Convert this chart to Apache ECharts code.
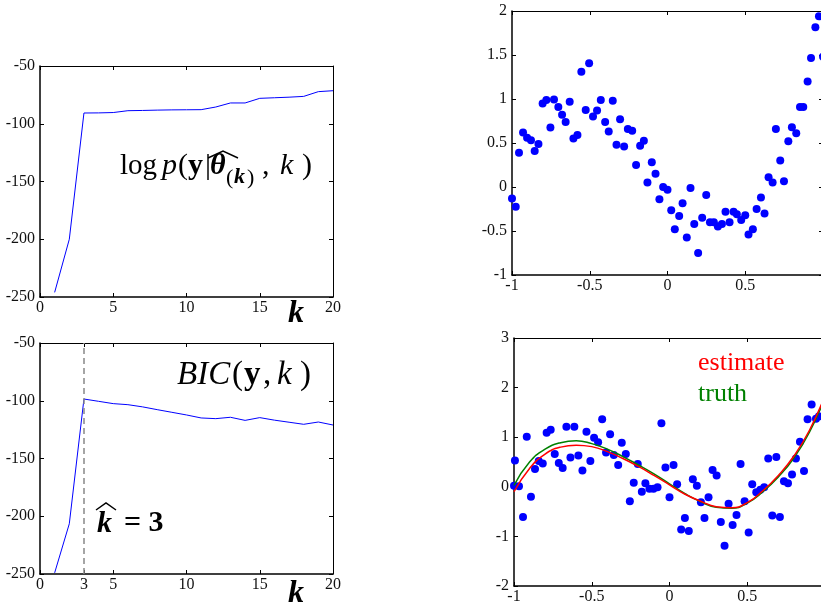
<!DOCTYPE html>
<html>
<head>
<meta charset="utf-8">
<script src="https://cdn.jsdelivr.net/npm/echarts@6/dist/echarts.min.js"></script>
<style>
  html, body { margin: 0; padding: 0; background: #fff; }
  #chart { width: 821px; height: 607px; }
</style>
</head>
<body>
<div id="chart"></div>
<script>
// 左上: log p(y|theta_k, k)，左下: BIC(y, k)
var kValues = [1, 2, 3, 4, 5, 6, 7, 8, 9, 10, 11, 12, 13, 14, 15, 16, 17, 18, 19, 20]
var logLik = [-246, -200, -90.7, -90.6, -90.3, -88.7, -88.5, -88.2, -88, -87.9, -87.8, -85.5, -82, -82, -78, -77.5, -77, -76.3, -72.2, -71.4]
var bicValues = [-249, -206.5, -98.5, -100.5, -102.5, -103.4, -105.3, -107.7, -110, -112.3, -114.9, -115.5, -114.3, -117, -114.6, -116.8, -118.6, -120.4, -118.4, -121]
var bicTicks = [0, 3, 5, 10, 15, 20]

// 右上: 样本点
var topX = [-1, -0.976, -0.955, -0.929, -0.903, -0.878, -0.854, -0.83, -0.803, -0.779, -0.753, -0.73, -0.702, -0.678, -0.655, -0.629, -0.605, -0.579, -0.554, -0.526, -0.504, -0.479, -0.453, -0.429, -0.401, -0.378, -0.352, -0.328, -0.305, -0.279, -0.255, -0.227, -0.202, -0.176, -0.152, -0.129, -0.101, -0.077, -0.052, -0.028, 0, 0.024, 0.047, 0.075, 0.097, 0.124, 0.148, 0.172, 0.197, 0.223, 0.249, 0.273, 0.298, 0.324, 0.35, 0.373, 0.399, 0.425, 0.446, 0.474, 0.5, 0.521, 0.549, 0.573, 0.601, 0.624, 0.65, 0.676, 0.697, 0.725, 0.749, 0.777, 0.8, 0.828, 0.852, 0.873, 0.901, 0.923, 0.951, 0.974, 1]
var topY = [-0.13, -0.225, 0.39, 0.62, 0.56, 0.53, 0.41, 0.49, 0.95, 0.99, 0.675, 0.995, 0.91, 0.82, 0.74, 0.97, 0.55, 0.59, 1.31, 0.875, 1.405, 0.8, 0.87, 0.99, 0.74, 0.63, 0.98, 0.48, 0.77, 0.46, 0.66, 0.64, 0.25, 0.47, 0.525, 0.05, 0.28, 0.15, -0.14, 0, -0.03, -0.265, -0.48, -0.33, -0.185, -0.575, -0.01, -0.42, -0.75, -0.35, -0.09, -0.4, -0.4, -0.45, -0.42, -0.28, -0.4, -0.28, -0.31, -0.375, -0.32, -0.54, -0.48, -0.25, -0.12, -0.3, 0.11, 0.05, 0.66, 0.3, 0.065, 0.52, 0.68, 0.61, 0.91, 0.91, 1.2, 1.465, 1.815, 1.94, 1.48]

// 右下: 样本点 + 曲线
var botX = [-1, -0.994, -0.968, -0.942, -0.918, -0.891, -0.865, -0.841, -0.815, -0.79, -0.764, -0.738, -0.712, -0.687, -0.663, -0.637, -0.612, -0.586, -0.56, -0.534, -0.509, -0.485, -0.459, -0.433, -0.408, -0.382, -0.358, -0.33, -0.307, -0.281, -0.255, -0.23, -0.204, -0.178, -0.155, -0.129, -0.103, -0.077, -0.052, -0.026, 0, 0.026, 0.049, 0.075, 0.099, 0.124, 0.15, 0.176, 0.202, 0.225, 0.251, 0.277, 0.303, 0.33, 0.354, 0.38, 0.406, 0.431, 0.457, 0.483, 0.509, 0.532, 0.558, 0.584, 0.609, 0.635, 0.661, 0.687, 0.71, 0.736, 0.762, 0.788, 0.813, 0.839, 0.865, 0.888, 0.914, 0.942, 0.961]
var botY = [0.02, 0.53, 0.01, -0.61, 1.01, -0.2, 0.36, 0.52, 0.47, 1.09, 1.15, 0.66, 0.48, 0.38, 1.21, 0.59, 1.21, 0.63, 0.33, 1.11, 0.52, 0.99, 0.9, 1.36, 0.69, 1.06, 0.64, 0.44, 0.89, 0.66, -0.29, 0.08, 0.46, -0.1, 0.07, -0.04, -0.04, -0.01, 1.28, 0.39, -0.21, 0.44, 0.05, -0.86, -0.63, -0.89, 0.15, 0.02, -0.31, -0.63, -0.21, 0.34, 0.23, -0.71, -1.19, -0.34, -0.77, -0.57, 0.46, -0.29, -0.92, 0.05, -0.11, -0.06, -0.01, 0.57, -0.58, 0.6, -0.61, 0.11, 0.07, 0.25, 0.57, 0.91, 0.32, 1.36, 1.66, 1.37, 1.42]
var curveX = [-1, -0.9, -0.8, -0.7, -0.6, -0.5, -0.4, -0.3, -0.2, -0.1, 0, 0.1, 0.2, 0.3, 0.4, 0.5, 0.6, 0.7, 0.8, 0.9, 1]
var truthY = [0.03, 0.5, 0.76, 0.89, 0.93, 0.87, 0.76, 0.61, 0.44, 0.26, 0.06, -0.14, -0.3, -0.41, -0.43, -0.33, -0.1, 0.2, 0.58, 1.1, 1.8]
var estimateY = [-0.1, 0.37, 0.66, 0.8, 0.84, 0.81, 0.71, 0.57, 0.41, 0.23, 0.04, -0.15, -0.29, -0.4, -0.42, -0.32, -0.08, 0.23, 0.62, 1.14, 1.84]

function zip(xs, ys) {
  return xs.map(function (x, i) { return [x, ys[i]] })
}

var serif = 'Liberation Serif'
var labelStyle = { color: '#111', fontFamily: serif, fontSize: 16 }

// 底/左 轴: 粗线；顶/右 轴: 细线 + 向内刻度
function mainX(grid, min, max, interval, extra) {
  return Object.assign({
    type: 'value', gridIndex: grid, min: min, max: max, interval: interval,
    axisLine: { onZero: false, lineStyle: { color: '#000', width: 1.5 } },
    axisTick: { inside: true, length: 4, lineStyle: { color: '#000' } },
    axisLabel: Object.assign({ margin: 3 }, labelStyle),
    splitLine: { show: false }
  }, extra || {})
}
function boxX(grid, min, max, interval, extra) {
  return Object.assign({
    type: 'value', gridIndex: grid, min: min, max: max, interval: interval, position: 'top',
    axisLine: { onZero: false, lineStyle: { color: '#000', width: 1 } },
    axisTick: { inside: true, length: 4, lineStyle: { color: '#000' } },
    axisLabel: { show: false },
    splitLine: { show: false }
  }, extra || {})
}
function mainY(grid, min, max, interval) {
  return {
    type: 'value', gridIndex: grid, min: min, max: max, interval: interval,
    axisLine: { show: true, onZero: false, lineStyle: { color: '#000', width: 1.5 } },
    axisTick: { show: true, inside: true, length: 4, lineStyle: { color: '#000' } },
    axisLabel: Object.assign({ margin: 5 }, labelStyle),
    splitLine: { show: false }
  }
}
function boxY(grid, min, max, interval) {
  return {
    type: 'value', gridIndex: grid, min: min, max: max, interval: interval, position: 'right',
    axisLine: { show: true, onZero: false, lineStyle: { color: '#000', width: 1 } },
    axisTick: { show: true, inside: true, length: 4, lineStyle: { color: '#000' } },
    axisLabel: { show: false },
    splitLine: { show: false }
  }
}

var hideOne = { formatter: function (v) { return v === 1 ? '' : String(v) } }
var f30 = '30px ' + serif
var f33 = '33px ' + serif

var chart = echarts.init(document.getElementById('chart'))
var option = {
  animation: false,
  backgroundColor: '#fff',
  grid: [
    { left: 40, top: 66, width: 293, height: 231, outerBoundsMode: 'none' },
    { left: 40, top: 343, width: 293, height: 231, outerBoundsMode: 'none' },
    { left: 512, top: 11, width: 311, height: 264, outerBoundsMode: 'none' },
    { left: 514, top: 338, width: 311, height: 248, outerBoundsMode: 'none' }
  ],
  xAxis: [
    mainX(0, 0, 20, 5),
    mainX(1, 0, 20, 5, {
      axisTick: { inside: true, length: 4, lineStyle: { color: '#000' }, customValues: bicTicks },
      axisLabel: Object.assign({ margin: 3, customValues: bicTicks }, labelStyle)
    }),
    mainX(2, -1, 1, 0.5, { axisLabel: Object.assign({ margin: 3 }, labelStyle, hideOne) }),
    mainX(3, -1, 1, 0.5, { axisLabel: Object.assign({ margin: 3 }, labelStyle, hideOne) }),
    boxX(0, 0, 20, 5),
    boxX(1, 0, 20, 5, { axisTick: { inside: true, length: 4, lineStyle: { color: '#000' }, customValues: bicTicks } }),
    boxX(2, -1, 1, 0.5),
    boxX(3, -1, 1, 0.5)
  ],
  yAxis: [
    mainY(0, -250, -50, 50),
    mainY(1, -250, -50, 50),
    mainY(2, -1, 2, 0.5),
    mainY(3, -2, 3, 1),
    boxY(0, -250, -50, 50),
    boxY(1, -250, -50, 50),
    boxY(2, -1, 2, 0.5),
    boxY(3, -2, 3, 1)
  ],
  series: [
    {
      type: 'line', xAxisIndex: 0, yAxisIndex: 0, data: zip(kValues, logLik),
      showSymbol: false, lineStyle: { color: '#0000ff', width: 1 }
    },
    {
      type: 'line', xAxisIndex: 1, yAxisIndex: 1, data: zip(kValues, bicValues),
      showSymbol: false, clip: true, lineStyle: { color: '#0000ff', width: 1 },
      markLine: {
        silent: true, symbol: 'none', label: { show: false },
        lineStyle: { color: '#888', type: [6, 4], width: 1.5 },
        data: [{ xAxis: 3 }]
      }
    },
    {
      type: 'scatter', xAxisIndex: 2, yAxisIndex: 2, data: zip(topX, topY),
      symbolSize: 8, itemStyle: { color: '#0000ff', opacity: 1 }
    },
    {
      type: 'scatter', xAxisIndex: 3, yAxisIndex: 3, data: zip(botX, botY),
      symbolSize: 8, itemStyle: { color: '#0000ff', opacity: 1 }
    },
    {
      name: 'truth', type: 'line', xAxisIndex: 3, yAxisIndex: 3, data: zip(curveX, truthY),
      smooth: true, showSymbol: false, lineStyle: { color: '#008000', width: 1.5 }
    },
    {
      name: 'estimate', type: 'line', xAxisIndex: 3, yAxisIndex: 3, data: zip(curveX, estimateY),
      smooth: true, showSymbol: false, lineStyle: { color: '#ff0000', width: 1.5 }
    }
  ],
  graphic: [
    // 公式标注 log p(y|θ̂(k), k)
    { type: 'text', left: 120, top: 152, style: { text: 'log', font: '29px ' + serif, fill: '#000' } },
    { type: 'text', left: 162, top: 151, style: { text: 'p', font: 'italic ' + f30, fill: '#000' } },
    { type: 'text', left: 178, top: 151, style: { text: '(', font: f30, fill: '#000' } },
    { type: 'text', left: 188, top: 151, style: { text: 'y', font: 'bold ' + f30, fill: '#000' } },
    { type: 'text', left: 205, top: 151, style: { text: '|', font: f30, fill: '#000' } },
    { type: 'text', left: 210, top: 151, style: { text: 'θ', font: 'bold italic ' + f30, fill: '#000' } },
    { type: 'polyline', shape: { points: [[208, 158], [223, 151], [238, 158]] }, style: { stroke: '#000', lineWidth: 1.5, fill: null } },
    { type: 'text', left: 226, top: 167, style: { text: '(', font: '22px ' + serif, fill: '#000' } },
    { type: 'text', left: 234, top: 166, style: { text: 'k', font: 'bold italic 22px ' + serif, fill: '#000' } },
    { type: 'text', left: 247, top: 167, style: { text: ')', font: '22px ' + serif, fill: '#000' } },
    { type: 'text', left: 262, top: 151, style: { text: ',', font: f30, fill: '#000' } },
    { type: 'text', left: 280, top: 151, style: { text: 'k', font: 'italic ' + f30, fill: '#000' } },
    { type: 'text', left: 302, top: 151, style: { text: ')', font: f30, fill: '#000' } },

    // BIC(y, k)
    { type: 'text', left: 177, top: 359, style: { text: 'BIC', font: 'italic ' + f33, fill: '#000' } },
    { type: 'text', left: 232, top: 359, style: { text: '(', font: f33, fill: '#000' } },
    { type: 'text', left: 244, top: 359, style: { text: 'y', font: 'bold ' + f33, fill: '#000' } },
    { type: 'text', left: 263, top: 359, style: { text: ',', font: f33, fill: '#000' } },
    { type: 'text', left: 277, top: 359, style: { text: 'k', font: 'italic ' + f33, fill: '#000' } },
    { type: 'text', left: 300, top: 359, style: { text: ')', font: f33, fill: '#000' } },

    // k̂ = 3
    { type: 'text', left: 97, top: 509, style: { text: 'k', font: 'bold italic ' + f30, fill: '#000' } },
    { type: 'polyline', shape: { points: [[96, 510], [106, 503], [116, 510]] }, style: { stroke: '#000', lineWidth: 1.5, fill: null } },
    { type: 'text', left: 124, top: 508, style: { text: '= 3', font: 'bold ' + f30, fill: '#000' } },

    // 坐标轴名 k
    { type: 'text', left: 288, top: 298, style: { text: 'k', font: 'bold italic 32px ' + serif, fill: '#000' } },
    { type: 'text', left: 288, top: 578, style: { text: 'k', font: 'bold italic 32px ' + serif, fill: '#000' } },

    // 右下图例文字
    { type: 'text', left: 698, top: 350, style: { text: 'estimate', font: '26px ' + serif, fill: '#ff0000' } },
    { type: 'text', left: 698, top: 381, style: { text: 'truth', font: '26px ' + serif, fill: '#008000' } }
  ]
}
chart.setOption(option)
</script>
</body>
</html>
